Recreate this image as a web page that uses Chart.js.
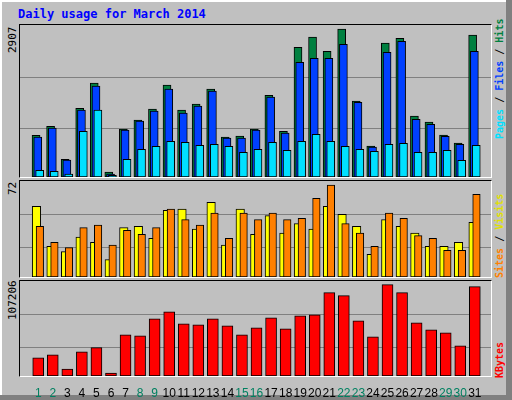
<!DOCTYPE html>
<html><head><meta charset="utf-8">
<script src="https://cdn.jsdelivr.net/npm/chart.js@4"></script>
<style>
html,body{margin:0;padding:0;}
body{width:512px;height:400px;background:#c0c0c0;position:relative;overflow:hidden;font-family:"DejaVu Sans Mono",monospace;}
#frame{position:absolute;left:0;top:0;width:505px;height:394px;border-left:2px solid #fff;border-top:2px solid #fff;}
#edgeR{position:absolute;left:506px;top:0;width:6px;height:400px;background:#808080;}
#edgeB{position:absolute;left:0;top:395px;width:512px;height:5px;background:#808080;}
.panel{position:absolute;left:19px;width:471px;border-top:1px solid #000;border-left:1px solid #000;border-right:1px solid #fff;border-bottom:1px solid #fff;}
.cv{position:absolute;}
.vl{position:absolute;transform-origin:0 0;transform:rotate(-90deg);white-space:nowrap;}
#title{position:absolute;left:18px;top:7px;color:#0000ff;font-weight:bold;font-size:12px;}
</style></head><body>
<div id="frame"></div><div id="edgeR"></div><div id="edgeB"></div>
<div id="title">Daily usage for March 2014</div>
<div class="panel" style="top:24px;height:152px;"></div>
<div class="panel" style="top:180px;height:96px;"></div>
<div class="panel" style="top:280px;height:95px;"></div>
<div class="cv" style="left:20px;top:25px;width:471px;height:152px;"><canvas id="c1"></canvas></div>
<div class="cv" style="left:20px;top:181px;width:471px;height:96px;"><canvas id="c2"></canvas></div>
<div class="cv" style="left:20px;top:281px;width:471px;height:119px;"><canvas id="c3"></canvas></div>
<div class="vl" style="left:6px;top:53px;font-size:11px;">2907</div>
<div class="vl" style="left:6px;top:195px;font-size:11px;">72</div>
<div class="vl" style="left:6px;top:320px;font-size:11px;">107206</div>
<div class="vl" style="left:494px;top:139px;font-size:10px;font-weight:bold;"><span style="color:#00e0ff">Pages</span><span style="color:#000"> / </span><span style="color:#0040ff">Files</span><span style="color:#000"> / </span><span style="color:#008040">Hits</span></div>
<div class="vl" style="left:494px;top:278px;font-size:10px;font-weight:bold;"><span style="color:#ff8000">Sites</span><span style="color:#000"> / </span><span style="color:#e0e000">Visits</span></div>
<div class="vl" style="left:494px;top:378px;font-size:10px;font-weight:bold;color:#ff0000">KBytes</div>
<script>
const days = Array.from({length:31},(_,i)=>String(i+1));
const hits  = [798,970,340,1314,1798,95,918,1090,1300,1760,1281,1396,1683,765,784,918,1562,874,2480,2678,2404,2830,1453,593,2563,2653,1167,1052,803,650,2716];
const files = [765,937,325,1281,1740,57,899,1071,1262,1683,1224,1358,1645,746,746,899,1530,841,2193,2270,2270,2538,1428,574,2385,2595,1103,1008,778,625,2404];
const pages = [128,109,57,874,1281,30,338,530,587,683,664,606,625,587,472,530,664,510,683,816,683,587,530,491,625,644,472,472,510,319,606];
const visits= [53,23,19,30,26,13,37,38,29,50,51,36,56,24,51,32,46,33,40,36,53,47,38,17,43,38,33,23,23,26,41];
const sites = [38,26,22,37,39,24,35,32,37,51,43,39,48,29,48,43,48,43,44,59,69,40,33,23,48,44,31,29,20,20,62];
const kbytes= [20400,23800,7900,27200,32100,3400,46500,45300,64600,72500,58900,57800,64600,56700,46500,54400,65700,53300,68000,69100,94100,90700,62300,44200,103100,94100,60100,52100,48700,34000,100900];
const maxTop=2907, maxMid=72, maxBot=107206;
const gridTop=[945,1913], gridMid=[22.6,47.5], gridBot=[32900,70200];

function pts(arr,off){return arr.map((v,i)=>({x:i+off,y:v}));}
function ds(arr,off,color,w){return {data:pts(arr,off),backgroundColor:color,borderColor:'#000',borderWidth:1,borderSkipped:false,barThickness:w,grouped:false};}
const gridPlugin={id:'g',beforeDatasetsDraw(c,a,o){const y=c.scales.y,ctx=c.ctx;ctx.save();ctx.strokeStyle='#808080';ctx.lineWidth=1;
  for(const v of o.vals){const p=Math.round(y.getPixelForValue(v))+0.5;ctx.beginPath();ctx.moveTo(c.chartArea.left,p);ctx.lineTo(c.chartArea.right,p);ctx.stroke();}ctx.restore();}};
function make(id,sets,max,grid,showX){
  const weekend=i=>{const d=new Date(2014,2,i+1).getDay();return d===0||d===6;};
  const xs={type:'linear',min:-0.73,max:30.59,display:showX,grid:{display:false},border:{display:false},
     afterBuildTicks:s=>{s.ticks=days.map((d,i)=>({value:i}));},
     ticks:{autoSkip:false,maxRotation:0,padding:2,font:{family:'Liberation Sans',size:12},
       callback:(v)=>days[v],color:c=>weekend(c.tick.value)?'#008060':'#000'}};
  if(showX) xs.afterFit=s=>{s.height=24;};
  return new Chart(document.getElementById(id),{type:'bar',data:{datasets:sets},plugins:[gridPlugin],
  options:{responsive:true,maintainAspectRatio:false,animation:false,layout:{padding:0},
   plugins:{legend:{display:false},tooltip:{enabled:false},g:{vals:grid}},
   scales:{x:xs,y:{display:false,min:0,max:max}}}});
}
make('c1',[ds(pages,0.1,'#00e0ff',8),ds(files,-0.03,'#0040ff',8),ds(hits,-0.15,'#008040',8)],maxTop,gridTop,false);
make('c2',[ds(sites,0.113,'#ff8000',7.5),ds(visits,-0.12,'#ffff00',8.5)],maxMid,gridMid,false);
make('c3',[ds(kbytes,0,'#ff0000',11)],maxBot,gridBot,true);
</script></body></html>
